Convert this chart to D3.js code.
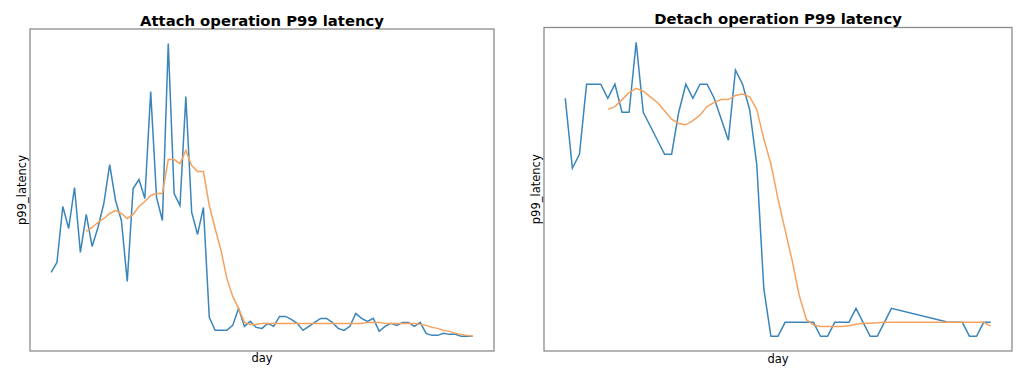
<!DOCTYPE html>
<html>
<head>
<meta charset="utf-8">
<script src="https://cdn.jsdelivr.net/npm/d3@7"></script>
<style>
  body { margin: 0; background: #fff; }
  svg { font-family: "DejaVu Sans", sans-serif; }
</style>
</head>
<body>
<svg width="1024" height="377"></svg>
<script>
// Attach operation: daily p99 latency and its 7 day rolling mean
const attachDays = d3.range(0, 73);
const attachLatency = [
  79, 89, 145, 123, 164, 99, 137, 105, 124, 148,
  187, 151, 131, 70, 163, 172, 153, 260, 154, 131,
  308, 158, 146, 255, 139, 117, 144, 34, 21, 21,
  21, 26, 43, 25, 30, 24, 23, 28, 25, 35,
  35, 32, 28, 21, 25, 29, 33, 33, 29, 23,
  21, 25, 38, 33, 30, 33, 20, 25, 28, 26,
  29, 29, 25, 29, 18, 16, 16, 18, 17, 17,
  15, 15, 15
];
const attachRolling = [
  null, null, null, null, null, null, 120, 124, 129, 133,
  138, 141, 138, 133, 137, 145, 150, 156, 158, 158,
  192, 192, 188, 201, 186, 180, 180, 146, 123, 101,
  73, 55, 43, 29, 27, 27, 28, 28, 28, 28,
  28, 28, 28, 28, 28, 28, 28, 28, 28, 28,
  28, 28, 28, 28, 29, 29, 29, 28, 28, 28,
  28, 28, 28, 27, 26, 24, 23, 21, 20, 18,
  17, 16, 15
];

// Detach operation (days 47-53 missing)
const detachDays = d3.range(0, 47).concat(d3.range(54, 61));
const detachLatency = [
  18, 13, 14, 19, 19, 19, 18, 19, 17, 17,
  22, 17, 16, 15, 14, 14, 17, 19, 18, 19,
  19, 18, 16.5, 15, 20, 19, 17.2, 13.3, 4.4, 1,
  1, 2, 2, 2, 2, 2, 1, 1, 2, 2,
  2, 3, 2, 1, 1, 2, 3,
  2, 2, 2, 1, 1, 2, 2
];
const detachRolling = [
  null, null, null, null, null, null, 17.2, 17.4, 17.9, 18.4,
  18.7, 18.5, 18.1, 17.7, 17.1, 16.5, 16.2, 16.1, 16.4, 16.8,
  17.4, 17.7, 17.9, 17.9, 18.2, 18.3, 18.1, 17.2, 15.1, 13.3,
  10.8, 8.6, 6.4, 3.9, 2.2, 1.8, 1.7, 1.7, 1.7, 1.7,
  1.75, 1.86, 1.93, 1.93, 1.96, 2, 2,
  2, 2, 2, 2, 2, 2, 1.73
];

const panels = [
  { title: "Attach operation P99 latency", days: attachDays, latency: attachLatency,
    rolling: attachRolling, left: 30, right: 494, top: 29, bottom: 351,
    titleY: 25.5, ylabelX: 26, xlabelY: 362 },
  { title: "Detach operation P99 latency", days: detachDays, latency: detachLatency,
    rolling: detachRolling, left: 544, right: 1012, top: 27.5, bottom: 351,
    titleY: 24, ylabelX: 539.5, xlabelY: 363 }
];

const svg = d3.select("svg");

// matplotlib style 5% margins around the data
function padded(ext) {
  const pad = (ext[1] - ext[0]) * 0.05;
  return [ext[0] - pad, ext[1] + pad];
}

panels.forEach(p => {
  const xScale = d3.scaleLinear()
    .domain(padded(d3.extent(p.days)))
    .range([p.left, p.right]);
  const yScale = d3.scaleLinear()
    .domain(padded(d3.extent(p.latency)))
    .range([p.bottom, p.top]);

  const rows = p.days.map((d, i) => ({ day: d, v: p.latency[i], r: p.rolling[i] }));

  // lines
  svg.append("path")
    .datum(rows)
    .attr("fill", "none")
    .attr("stroke", "#3a85b9")
    .attr("stroke-width", 1.5)
    .attr("d", d3.line().x(d => xScale(d.day)).y(d => yScale(d.v)));

  svg.append("path")
    .datum(rows)
    .attr("fill", "none")
    .attr("stroke", "#f6a25f")
    .attr("stroke-width", 1.5)
    .attr("d", d3.line()
      .defined(d => d.r !== null)
      .x(d => xScale(d.day))
      .y(d => yScale(d.r)));

  // frame
  svg.append("rect")
    .attr("x", p.left)
    .attr("y", p.top)
    .attr("width", p.right - p.left)
    .attr("height", p.bottom - p.top)
    .attr("fill", "none")
    .attr("stroke", "#8c8c8c")
    .attr("stroke-width", 1.3);

  // title
  svg.append("text")
    .attr("x", (p.left + p.right) / 2)
    .attr("y", p.titleY)
    .attr("text-anchor", "middle")
    .style("font-size", "14.8px")
    .style("font-weight", "bold")
    .text(p.title);

  // axis labels
  svg.append("text")
    .attr("x", (p.left + p.right) / 2)
    .attr("y", p.xlabelY)
    .attr("text-anchor", "middle")
    .style("font-size", "11.5px")
    .text("day");

  svg.append("text")
    .attr("transform", `translate(${p.ylabelX}, ${(p.top + p.bottom) / 2}) rotate(-90)`)
    .attr("text-anchor", "middle")
    .style("font-size", "11.5px")
    .text("p99_latency");
});
</script>
</body>
</html>
